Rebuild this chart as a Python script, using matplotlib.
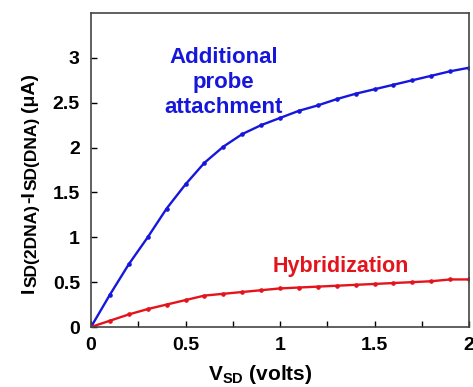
import matplotlib
matplotlib.use("Agg")
import matplotlib.pyplot as plt

plt.rcParams["font.family"] = ["Liberation Sans", "DejaVu Sans"]
plt.rcParams["font.weight"] = "bold"
plt.rcParams["mathtext.fontset"] = "custom"
plt.rcParams["mathtext.rm"] = "Liberation Sans:bold"
plt.rcParams["mathtext.it"] = "Liberation Sans:bold"
plt.rcParams["mathtext.bf"] = "Liberation Sans:bold"

v_sd = [0.0, 0.1, 0.2, 0.3, 0.4, 0.5, 0.6, 0.7, 0.8, 0.9, 1.0,
        1.1, 1.2, 1.3, 1.4, 1.5, 1.6, 1.7, 1.8, 1.9, 2.0]
probe = [0.0, 0.36, 0.70, 1.00, 1.32, 1.59, 1.83, 2.01, 2.15, 2.25, 2.33,
         2.41, 2.47, 2.54, 2.60, 2.65, 2.70, 2.75, 2.80, 2.85, 2.89]
hybrid = [0.0, 0.07, 0.14, 0.20, 0.25, 0.30, 0.35, 0.37, 0.39, 0.41, 0.43,
          0.44, 0.45, 0.46, 0.47, 0.48, 0.49, 0.50, 0.51, 0.53, 0.53]

blue = "#1717dc"
red = "#e3141c"

W, H = 473, 387
fig = plt.figure(figsize=(W / 100, H / 100), dpi=100)
ax = fig.add_axes([91 / W, 60 / H, 378 / W, 314 / H])

ax.plot(v_sd, probe, color=blue, lw=1.7, marker="o", ms=2.3)
ax.plot(v_sd, hybrid, color=red, lw=1.7, marker="o", ms=2.3)

ax.set_xlim(0, 2)
ax.set_ylim(0, 3.5)
ax.set_xticks([0, 0.25, 0.5, 0.75, 1, 1.25, 1.5, 1.75, 2])
ax.set_xticklabels(["0", "", "0.5", "", "1", "", "1.5", "", "2"])
ax.set_yticks([0, 0.5, 1, 1.5, 2, 2.5, 3])
ax.set_yticklabels(["0", "0.5", "1", "1.5", "2", "2.5", "3"])
ax.tick_params(direction="in", length=4, width=1, labelsize=14)
ax.tick_params(axis="x", pad=7)
ax.tick_params(axis="y", pad=8)
for s in ax.spines.values():
    s.set_color("#444444")
    s.set_linewidth(1.2)

ax.text(0.70, 2.72, "Additional\nprobe\nattachment", color=blue, fontsize=16,
        fontweight="bold", ha="center", va="center", linespacing=1.25)
ax.text(1.32, 0.67, "Hybridization", color=red, fontsize=15.5,
        fontweight="bold", ha="center", va="center")

# x label
fig.text(260 / W, 1 - 375 / H, r"$\mathrm{V_{SD}}$ (volts)", fontsize=15,
         fontweight="bold", ha="center", va="center")

# y label built from pieces so the subscripts stay large
pieces = [("I", 14, 0, 1), ("SD(2DNA)", 12.5, 3, 1), ("-I", 14, 0, 1),
          ("SD(DNA)", 12.5, 3, 5), ("(\u03bcA)", 14, 0, 0)]
renderer = fig.canvas.get_renderer()
lengths = []
for txt, size, _, gap in pieces:
    t = fig.text(0, 0, txt, fontsize=size, fontweight="bold", rotation=90)
    lengths.append(t.get_window_extent(renderer).height + gap)
    t.remove()
y = (H - 183) - sum(lengths) / 2
x_base = 34
for (txt, size, shift, _), ln in zip(pieces, lengths):
    fig.text((x_base + shift) / W, y / H, txt, fontsize=size, fontweight="bold",
             rotation=90, rotation_mode="anchor", ha="left", va="baseline")
    y += ln

fig.savefig("out.png", dpi=100)
